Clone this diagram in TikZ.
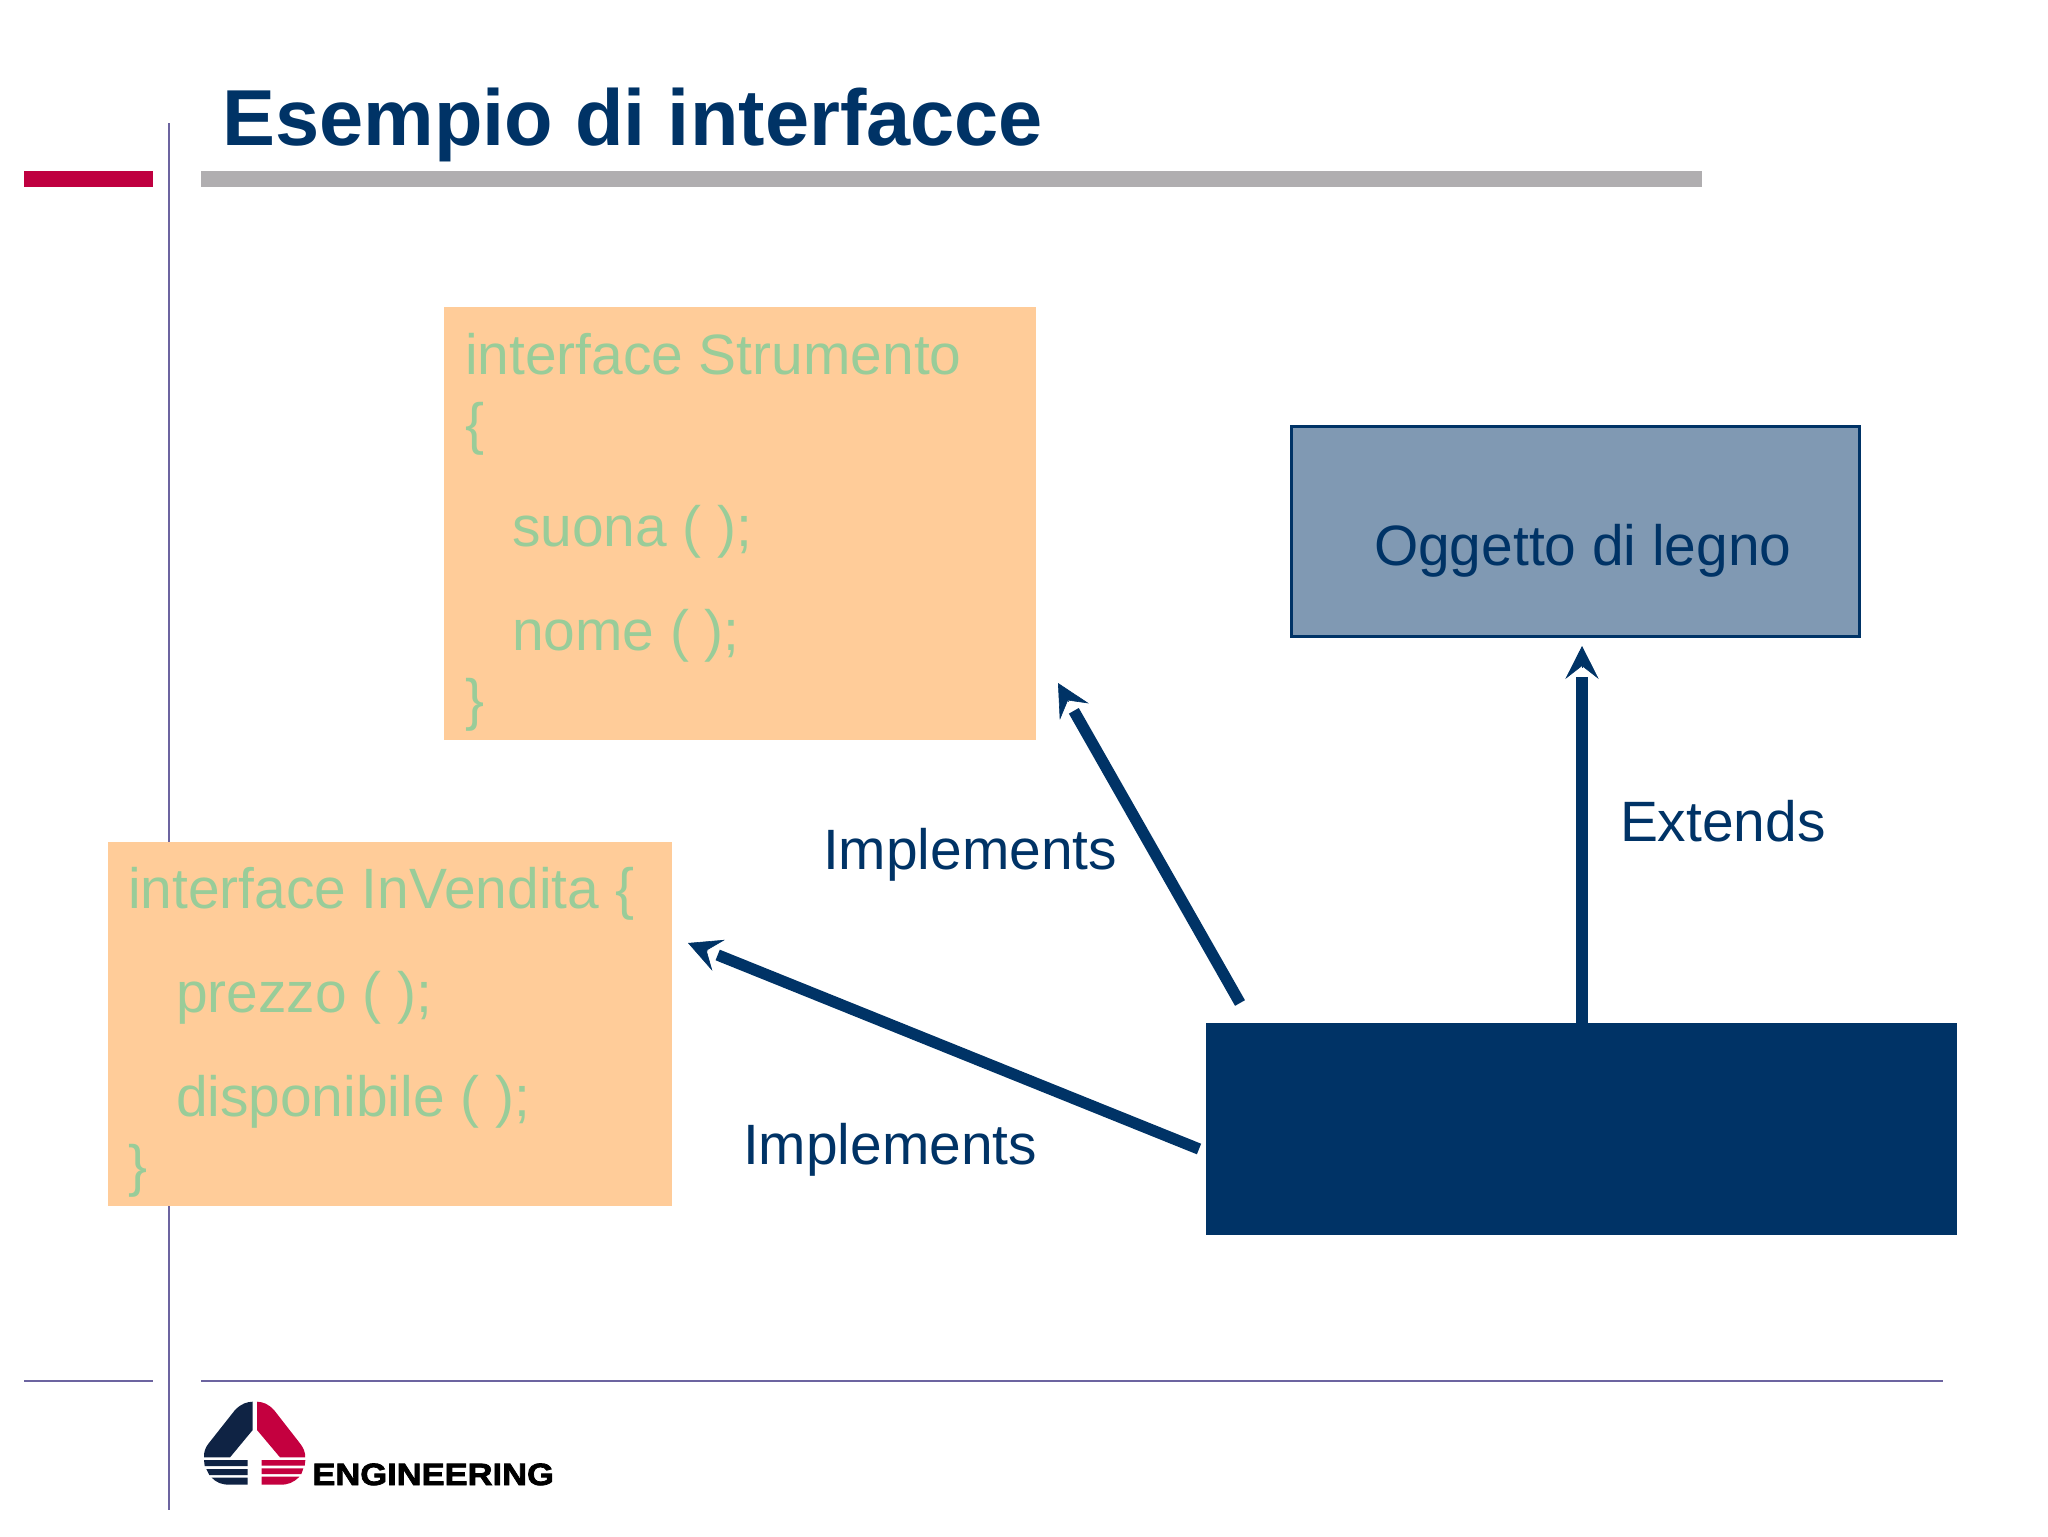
\documentclass[tikz,border=0pt]{standalone}
\usepackage{fontspec}
\setmainfont{Liberation Sans}
\newfontfamily\logofont[UprightFont=* Bold,FakeBold=2.5,FakeStretch=1.12]{Liberation Sans}
\usetikzlibrary{arrows.meta,calc}
\definecolor{navy}{HTML}{003366}
\definecolor{orangebox}{HTML}{FFCC99}
\definecolor{codegreen}{HTML}{99CC99}
\definecolor{steel}{HTML}{8099B3}
\definecolor{crimson}{HTML}{BF0040}
\definecolor{greybar}{HTML}{B0AEB0}
\definecolor{rule}{HTML}{6C64A0}
\definecolor{logonavy}{HTML}{0F2344}
\definecolor{logored}{HTML}{C4003F}
\tikzset{
  box/.style={rectangle,anchor=north west,inner sep=0pt,outer sep=0pt},
  txt/.style={anchor=base west,inner sep=0pt,outer sep=0pt,font=\fontsize{28.45pt}{30pt}\selectfont},
  code/.style={txt,text=codegreen},
  lbl/.style={txt,text=navy},
  thinrule/.style={draw=rule,line width=1.1pt},
  conn/.style={draw=navy,line width=5.7pt},
  connhead/.style={draw=navy,line width=0.3pt,-{Stealth[length=16.5pt,width=16.7pt,inset=6.5pt,fill=navy]}}
}
\begin{document}
\begin{tikzpicture}[x=0.5pt,y=-0.5pt]
\useasboundingbox (0,0) rectangle (2048,1536);
\fill[white] (0,0) rectangle (2048,1536);
% frame
\coordinate (vt) at (169,123); \coordinate (vb) at (169,1510);
\draw[thinrule] (vt) -- (vb);
\coordinate (r1a) at (24,1381); \coordinate (r1b) at (153,1381);
\coordinate (r2a) at (201,1381); \coordinate (r2b) at (1943,1381);
\draw[thinrule] (r1a) -- (r1b);
\draw[thinrule] (r2a) -- (r2b);
\node[box,fill=crimson,minimum width=64.5pt,minimum height=8pt] (redbar) at (24,171) {};
\node[box,fill=greybar,minimum width=750.5pt,minimum height=8pt] (greybar) at (201,171) {};
\node[anchor=base west,inner sep=0pt,text=navy,font=\fontsize{39.7pt}{42pt}\selectfont\bfseries] (title) at (222,145) {Esempio di interfacce};
% boxes
\node[box,fill=orangebox,minimum width=296pt,minimum height=216.5pt] (strumento) at (444,307) {};
\node[box,fill=orangebox,minimum width=282pt,minimum height=182pt] (invendita) at (107.5,842) {};
\node[box,fill=steel,draw=navy,line width=1.5pt,minimum width=284pt,minimum height=105pt] (legno) at (1291,426) {};
\node[box,fill=navy,minimum width=375.5pt,minimum height=106pt] (classe) at (1206,1023) {};
% code text
\node[code] (s1) at (465,374.5) {interface Strumento};
\node[code] (s2) at (465,443.5) {\{};
\node[code] (s3) at (512,546.5) {suona ( );};
\node[code] (s4) at (512,650.5) {nome ( );};
\node[code] (s5) at (465,719.5) {\}};
\node[code] (v1) at (128,908.5) {interface InVendita \{};
\node[code] (v2) at (176,1012.5) {prezzo ( );};
\node[code] (v3) at (176,1116.5) {disponibile ( );};
\node[code] (v4) at (128,1185.5) {\}};
% labels
\node[lbl] (lgn) at (1374,565) {Oggetto di legno};
\node[lbl] (ext) at (1620,841) {Extends};
\node[lbl] (imp1) at (823,869.5) {Implements};
\node[lbl] (imp2) at (743,1164.5) {Implements};
% connectors
\coordinate (a1s) at (1240,1003); \coordinate (a1t) at (1058,683);
\coordinate (a2s) at (1199,1149); \coordinate (a2t) at (688,943);
\coordinate (a3t) at (1582,646);
\draw[conn,shorten >=16pt] (a1s) -- (a1t);
\draw[connhead] ($(a1t)!10.8pt!(a1s)$) -- (a1t);
\draw[conn,shorten >=16pt] (a2s) -- (a2t);
\draw[connhead] ($(a2t)!10.8pt!(a2s)$) -- (a2t);
\draw[conn,shorten >=15.5pt] (classe.north -| a3t) -- (a3t);
\draw[connhead] ($(a3t)!10.8pt!(classe.north -| a3t)$) -- (a3t);
% logo
\begin{scope}[shift={(180,1380)},x=0.1667pt,y=-0.1667pt]
\fill[logonavy] (218,65) -- (218,150) -- (150,232) -- (72,232) -- (72,222) .. controls (75,205) and (80,197) .. (90,185) -- (165,90) .. controls (185,70) and (200,66) .. (218,65) -- cycle;
\fill[logored] (231,65) -- (231,150) -- (300,232) -- (375,232) -- (375,222) .. controls (372,205) and (365,197) .. (356,185) -- (282,90) .. controls (265,72) and (250,66) .. (231,65) -- cycle;
\fill[logonavy] (72,240) -- (203,240) -- (203,258) -- (74,258) -- cycle;
\fill[logonavy] (79,267) -- (203,267) -- (203,285) -- (88,285) -- cycle;
\fill[logonavy] (95,293) -- (203,293) -- (203,314) -- (150,314) .. controls (125,314) and (110,308) .. (95,293) -- cycle;
\fill[logored] (245,240) -- (376,240) -- (374,257) -- (245,257) -- cycle;
\fill[logored] (245,265) -- (370,265) -- (364,282) -- (245,282) -- cycle;
\fill[logored] (245,290) -- (358,290) .. controls (340,308) and (325,314) .. (300,314) -- (245,314) -- cycle;
\end{scope}
\node[anchor=base west,inner sep=0pt,font=\fontsize{15.4pt}{16pt}\logofont,text=black] (eng) at (312,1485) {ENGINEERING};
\end{tikzpicture}
\end{document}
